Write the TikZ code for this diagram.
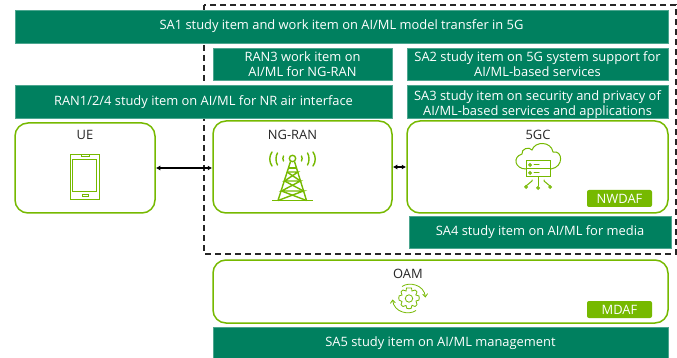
\documentclass[tikz,border=0pt]{standalone}
\usepackage{fontspec}
\setmainfont{Open Sans}
\usetikzlibrary{arrows.meta}
\definecolor{teal}{HTML}{00805F}
\definecolor{lime}{HTML}{76B900}
\tikzset{
 x=1pt,y=-1pt,
 band/.style={fill=teal,draw=teal!70!white,line width=.5pt,text=white,align=center,inner sep=0pt,font=\fontsize{12.9}{15.2}\selectfont},
 zone/.style={draw=lime,line width=1.5pt,fill=white,rounded corners=13pt,inner sep=0pt},
 zonelabel/.style={text=black!85,inner sep=0pt,font=\fontsize{12.9}{15}\selectfont},
 tag/.style={fill=lime,text=white,rounded corners=2pt,inner sep=0pt,minimum width=65pt,minimum height=17pt,font=\fontsize{12.9}{15}\selectfont},
 link/.style={draw=black,line width=1.3pt,{Latex[length=4.5pt,width=5pt]}-{Latex[length=4.5pt,width=5pt]}},
 icon/.style={draw=lime,line width=1.2pt},
 boundary/.style={draw=black!85,line width=1.2pt,dash pattern=on 6pt off 4pt},
}
\begin{document}
\begin{tikzpicture}
\useasboundingbox (0,0) rectangle (677,358);
\draw[boundary] (204,5) rectangle (676,254);
\node[band,minimum width=653pt,minimum height=33pt] (sa1) at (341.5,26.5) {SA1 study item and work item on AI/ML model transfer in 5G};
\node[band,minimum width=179pt,minimum height=32pt] (ran3) at (302.5,64) {RAN3 work item on\\AI/ML for NG-RAN};
\node[band,minimum width=261pt,minimum height=32pt] (sa2) at (537.5,64) {SA2 study item on 5G system support for\\AI/ML-based services};
\node[band,minimum width=377pt,minimum height=33pt] (ran1) at (203.5,102) {RAN1/2/4 study item on AI/ML for NR air interface};
\node[band,minimum width=261pt,minimum height=33pt] (sa3) at (537.5,102) {\rule{0pt}{15pt}SA3 study item on security and privacy of\\AI/ML-based services and applications};
\node[zone,minimum width=140pt,minimum height=90pt] (ue) at (85,168) {};
\node[zone,minimum width=179pt,minimum height=92pt] (ngran) at (302.5,167) {};
\node[zone,minimum width=261pt,minimum height=92pt] (fivegc) at (537.5,167) {};
\node[band,minimum width=262pt,minimum height=32pt] (sa4) at (540,232) {SA4 study item on AI/ML for media};
\node[zone,minimum width=455pt,minimum height=63pt] (oam) at (440.5,291.5) {};
\node[band,minimum width=455pt,minimum height=32pt] (sa5) at (440.5,343) {SA5 study item on AI/ML management};
\node[tag] (nwdaf) at (619.5,198.5) {NWDAF};
\node[tag] (mdaf) at (619.5,309.5) {MDAF};
\node[zonelabel] (uel) at (85,135) {UE};
\node[zonelabel] (ngl) at (292.5,135) {NG-RAN};
\node[zonelabel] (gcl) at (538,135) {5GC};
\node[zonelabel] (oaml) at (408,273.5) {OAM};
\draw[link] (ue.east) -- (ue.east -| ngran.west);
\draw[link] (ngran.east) -- (fivegc.west);
% phone
\draw[icon,line width=.9pt] (70,154) rectangle (99.5,199);
\draw[icon,line width=.9pt] (72.7,159) rectangle (96.8,191);
\draw[icon,line width=.7pt] (81,154) rectangle (89,156.5);
\draw[icon,line width=.7pt] (82,194) rectangle (88,196.5);
% tower
\begin{scope}[icon,line width=1.4pt]
 \draw (292.5,158.5) circle (3.2);
 \draw[line width=1.6pt] (272,200.5) -- (313,200.5);
 \draw (290.5,161.5) -- (278,200.5);
 \draw (294.5,161.5) -- (306.5,200.5);
 \draw (288.5,168) -- (297,168);
 \draw (287,172) -- (298,172) -- (284.5,181) -- (300.5,181) -- (281.5,191) -- (303.5,191) -- (278,200.5);
 \draw (287,172) -- (300.5,181);
 \draw (284.5,181) -- (303.5,191);
 \draw (281.5,191) -- (306.5,200.5);
 \draw[line cap=round] (283.5,156) .. controls (282.7,157.5) and (282.7,159.5) .. (283.5,161);
 \draw[line cap=round] (277.5,153) .. controls (275.5,156) and (275.5,162) .. (277.5,165);
 \draw[line cap=round] (272,152) .. controls (269,156) and (269,162) .. (272,166);
 \draw[line cap=round] (301.5,156) .. controls (302.3,157.5) and (302.3,159.5) .. (301.5,161);
 \draw[line cap=round] (307.5,153) .. controls (309.5,156) and (309.5,162) .. (307.5,165);
 \draw[line cap=round] (313,152) .. controls (316,156) and (316,162) .. (313,166);
\end{scope}
% cloud server
\begin{scope}[icon,line width=1pt,line cap=round]
 \draw (526,169) .. controls (515,169) and (512,157) .. (522,154)
       .. controls (521,149) and (529,146) .. (532,150)
       .. controls (535,141) and (551,141) .. (553,152)
       .. controls (563,150) and (564,167) .. (551,169);
 \draw[fill=white] (526,161) rectangle (550,177);
 \draw (526,169) -- (550,169);
 \draw (530,165) circle (1.3);
 \draw (530,173) circle (1.3);
 \draw (534,165) -- (539,165);
 \draw (534,173) -- (539,173);
 \draw (538,177) -- (538,186);
 \draw (532,180) -- (532,181) -- (526,186);
 \draw (544,180) -- (544,181) -- (550,186);
 \draw[fill=white] (526,187) circle (1.3);
 \draw[fill=white] (538,188) circle (1.3);
 \draw[fill=white] (550,187) circle (1.3);
\end{scope}
% gear
\begin{scope}[icon,line width=.8pt,shift={(409,298.5)}]
 \draw (0,0) circle (3.7);
 \draw plot[smooth cycle,tension=.3] coordinates {
  (0,-10.5)(2.5,-10.5)(3,-7.5)(6,-8.5)(8,-6.5)(6.8,-3.5)(10,-2.5)(10,1.5)(7,2.5)(8,6)(6,8)(3,6.8)(2,10)(-2,10)(-3,7)(-6,8)(-8,6)(-7,3)(-10,1.5)(-10,-2.5)(-7,-3.5)(-8,-6.5)(-6,-8.5)(-3,-7.5)(-2.5,-10.5)};
 \draw[-{Straight Barb[length=3pt,width=5pt]}] (-7,-12) .. controls (0,-17) and (15,-14) .. (16.5,-1);
 \draw[-{Straight Barb[length=3pt,width=5pt]}] (7,12) .. controls (0,17) and (-15,14) .. (-16.5,1);
\end{scope}
\end{tikzpicture}
\end{document}
